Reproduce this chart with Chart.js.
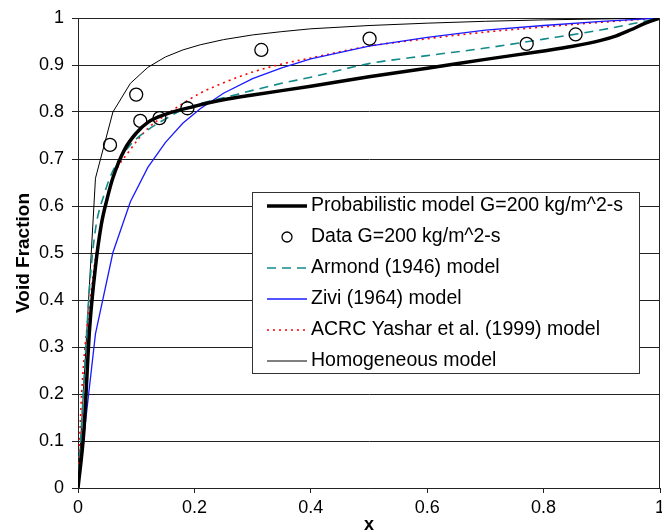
<!DOCTYPE html>
<html>
<head>
<meta charset="utf-8">
<script src="https://cdn.jsdelivr.net/npm/chart.js@4.4.1/dist/chart.umd.min.js"></script>
<style>
  body { margin: 0; background: #fff; }
  #wrap { width: 662px; height: 530px; }
</style>
</head>
<body>
<div id="wrap"><canvas id="chart" width="662" height="530"></canvas></div>
<script>
// Curves (x = quality, y = void fraction)
const gridX  = [0, 0.03, 0.06, 0.09, 0.12, 0.15, 0.18, 0.21, 0.25, 0.3, 0.35, 0.4, 0.5, 0.6, 0.7, 0.8, 0.9, 1];
const homogY = [0, 0.659, 0.80, 0.861, 0.895, 0.917, 0.932, 0.943, 0.954, 0.964, 0.971, 0.977, 0.984, 0.989, 0.993, 0.996, 0.998, 1];
const ziviY  = [0, 0.328, 0.501, 0.609, 0.682, 0.735, 0.776, 0.807, 0.840, 0.871, 0.894, 0.913, 0.940, 0.959, 0.974, 0.984, 0.993, 1];

const probX = [0, 0.01, 0.02, 0.03, 0.04, 0.05, 0.06, 0.08, 0.1, 0.12, 0.15, 0.2, 0.25, 0.3, 0.4, 0.5, 0.6, 0.7, 0.8, 0.85, 0.9, 0.925, 0.95, 0.975, 1];
const probY = [0, 0.12, 0.34, 0.47, 0.56, 0.615, 0.66, 0.72, 0.755, 0.778, 0.795, 0.812, 0.826, 0.836, 0.855, 0.875, 0.893, 0.912, 0.93, 0.94, 0.953, 0.962, 0.975, 0.989, 1];

const armondX = [0, 0.01, 0.02, 0.03, 0.045, 0.06, 0.09, 0.12, 0.15, 0.18, 0.21, 0.25, 0.3, 0.35, 0.4, 0.5, 0.6, 0.7, 0.8, 0.9, 1];
const armondY = [0, 0.22, 0.43, 0.55, 0.625, 0.675, 0.73, 0.762, 0.785, 0.805, 0.818, 0.83, 0.846, 0.861, 0.874, 0.903, 0.92, 0.936, 0.955, 0.975, 1];

const acrcX = [0, 0.005, 0.01, 0.02, 0.03, 0.045, 0.06, 0.09, 0.12, 0.15, 0.18, 0.21, 0.25, 0.3, 0.35, 0.4, 0.5, 0.6, 0.7, 0.8, 0.9, 1];
const acrcY = [0, 0.17, 0.27, 0.39, 0.49, 0.59, 0.66, 0.72, 0.765, 0.793, 0.818, 0.84, 0.862, 0.885, 0.902, 0.915, 0.94, 0.956, 0.97, 0.981, 0.991, 1];

// Measured points
const dataX = [0.055, 0.1, 0.107, 0.14, 0.188, 0.315, 0.501, 0.771, 0.855];
const dataY = [0.73, 0.837, 0.781, 0.787, 0.808, 0.932, 0.956, 0.945, 0.965];

const FONT = "'Liberation Sans', Arial, sans-serif";

function pts(xs, ys) {
    return xs.map((x, i) => ({ x: x, y: ys[i] }));
}

const series = [
    { label: 'Probabilistic model G=200 kg/m^2-s', data: pts(probX, probY), borderColor: '#000', borderWidth: 3.5, smooth: true, kind: 'line' },
    { label: 'Data G=200 kg/m^2-s', data: pts(dataX, dataY), borderColor: '#000', kind: 'point' },
    { label: 'Armond (1946) model', data: pts(armondX, armondY), borderColor: '#138a8a', borderWidth: 1.6, dash: [9, 6], smooth: true, kind: 'line' },
    { label: 'Zivi (1964) model', data: pts(gridX, ziviY), borderColor: '#1a1aff', borderWidth: 1.3, kind: 'line' },
    { label: 'ACRC Yashar et al. (1999) model', data: pts(acrcX, acrcY), borderColor: '#ff0000', borderWidth: 1.6, dash: [2, 4], smooth: true, kind: 'line' },
    { label: 'Homogeneous model', data: pts(gridX, homogY), borderColor: '#000', borderWidth: 1, kind: 'line' }
];

const datasets = series.map((s) => {
    if (s.kind == 'point') {
        return {
            label: s.label,
            data: s.data,
            showLine: false,
            pointRadius: 6.5,
            pointBorderWidth: 1.3,
            pointBorderColor: '#000',
            pointBackgroundColor: 'rgba(0,0,0,0)'
        };
    }
    return {
        label: s.label,
        data: s.data,
        showLine: true,
        borderColor: s.borderColor,
        borderWidth: s.borderWidth,
        borderDash: s.dash || [],
        pointRadius: 0,
        fill: false,
        cubicInterpolationMode: s.smooth ? 'monotone' : 'default',
        tension: 0
    };
});

// Legend box drawn inside the plot, plus the right frame line
const boxLegend = {
    id: 'boxLegend',
    afterDraw(chart) {
        const ctx = chart.ctx;
        const area = chart.chartArea;
        ctx.save();
        ctx.strokeStyle = '#222';
        ctx.lineWidth = 1;
        ctx.beginPath();
        ctx.moveTo(area.right - 0.5, area.top);
        ctx.lineTo(area.right - 0.5, area.bottom);
        ctx.stroke();

        const bx = 252, by = 192, bw = 387, bh = 181;
        ctx.fillStyle = '#fff';
        ctx.fillRect(bx, by, bw, bh);
        ctx.strokeStyle = '#333';
        ctx.strokeRect(bx + 0.5, by + 0.5, bw, bh);

        ctx.font = '19.5px ' + FONT;
        ctx.textBaseline = 'middle';
        ctx.textAlign = 'left';
        series.forEach((s, i) => {
            const y = by + 14 + i * 31;
            if (s.kind == 'point') {
                ctx.beginPath();
                ctx.arc(287, y, 5, 0, Math.PI * 2);
                ctx.strokeStyle = '#000';
                ctx.lineWidth = 1.3;
                ctx.setLineDash([]);
                ctx.stroke();
            } else {
                ctx.beginPath();
                ctx.moveTo(267, y);
                ctx.lineTo(307, y);
                ctx.strokeStyle = s.borderColor;
                ctx.lineWidth = s.borderWidth;
                ctx.setLineDash(s.dash || []);
                ctx.stroke();
                ctx.setLineDash([]);
            }
            ctx.fillStyle = '#000';
            ctx.fillText(s.label, 311, y);
        });
        ctx.restore();
    }
};

new Chart(document.getElementById('chart'), {
    type: 'scatter',
    data: { datasets: datasets },
    options: {
        responsive: false,
        animation: false,
        layout: { autoPadding: false, padding: { top: 18, right: 2, left: 0, bottom: 0 } },
        plugins: {
            legend: { display: false },
            tooltip: { enabled: false }
        },
        scales: {
            x: {
                type: 'linear',
                min: 0,
                max: 1,
                afterFit: (s) => { s.height = 42; s.paddingLeft = 0; s.paddingRight = 0; },
                ticks: {
                    stepSize: 0.2,
                    color: '#000',
                    padding: 4,
                    font: { family: FONT, size: 18 },
                    callback: (v) => String(Math.round(v * 10) / 10)
                },
                grid: { drawOnChartArea: false, color: '#222', tickLength: 5 },
                border: { color: '#222' },
                title: {
                    display: true,
                    text: 'x',
                    color: '#000',
                    padding: 0,
                    font: { family: FONT, size: 18, weight: 'bold', lineHeight: 0.6 }
                }
            },
            y: {
                min: 0,
                max: 1,
                afterFit: (s) => { s.width = 78; s.paddingTop = 0; s.paddingBottom = 0; },
                ticks: {
                    stepSize: 0.1,
                    color: '#000',
                    padding: 8,
                    font: { family: FONT, size: 18 },
                    callback: (v) => String(Math.round(v * 10) / 10)
                },
                grid: { color: '#222', tickLength: 6 },
                border: { color: '#222' },
                title: {
                    display: true,
                    text: 'Void Fraction',
                    color: '#000',
                    padding: { top: 12, bottom: 0 },
                    font: { family: FONT, size: 19, weight: 'bold', lineHeight: 1.2 }
                }
            }
        }
    },
    plugins: [boxLegend]
});
</script>
</body>
</html>
